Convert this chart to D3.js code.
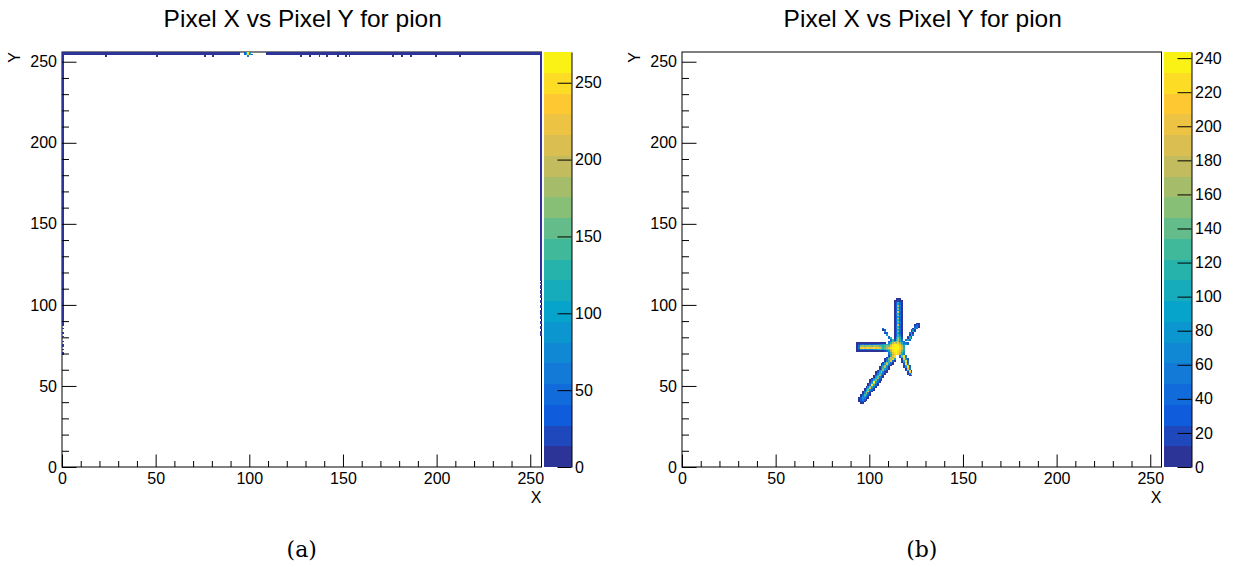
<!DOCTYPE html>
<html>
<head>
<meta charset="utf-8">
<script src="https://cdn.jsdelivr.net/npm/d3@7"></script>
<style>
  body { margin: 0; background: #fff; }
  text { font-family: "Liberation Sans", Arial, sans-serif; fill: #000; }
</style>
</head>
<body>
<svg id="chart" width="1237" height="567"></svg>
<script>
// ---- data ----
var titleText = 'Pixel X vs Pixel Y for pion';
var panelTags = ['(a)', '(b)'];
var xyTicks = [0, 50, 100, 150, 200, 250];
var xyMinor = [10, 20, 30, 40, 60, 70, 80, 90, 110, 120, 130, 140, 160, 170, 180, 190, 210, 220, 230, 240];
var zTicksA = [0, 50, 100, 150, 200, 250];
var zTicksB = [0, 20, 40, 60, 80, 100, 120, 140, 160, 180, 200, 220, 240];
var zMaxA = 270;
var zMaxB = 243.6;

// panel (a): blocks of hit pixels [x0, x1, y0, y1, value]
var blocksA = [
  [0, 94, 254, 255, 10], [97, 97, 254, 255, 40], [98, 98, 254, 255, 110], [99, 99, 254, 255, 255],
  [100, 100, 254, 255, 90], [101, 101, 254, 254, 30], [109, 255, 254, 255, 10],
  [23, 23, 253, 253, 10], [50, 50, 253, 253, 10], [76, 76, 253, 253, 10], [80, 80, 253, 253, 10],
  [99, 99, 253, 253, 60],
  [127, 127, 253, 253, 10], [132, 132, 253, 253, 10], [137, 137, 253, 253, 10], [141, 141, 253, 253, 10],
  [147, 147, 253, 253, 10], [151, 151, 253, 253, 10], [153, 153, 253, 253, 10], [176, 176, 253, 253, 10],
  [181, 181, 253, 253, 10], [186, 186, 253, 253, 10], [199, 199, 253, 253, 10], [212, 212, 253, 253, 10],
  [0, 0, 87, 253, 10], [0, 0, 85, 85, 10], [0, 0, 82, 82, 10], [0, 0, 80, 80, 10], [0, 0, 77, 77, 10],
  [0, 0, 74, 75, 10], [0, 0, 72, 72, 10], [0, 0, 69, 70, 10],
  [255, 255, 115, 253, 10], [255, 255, 113, 113, 10], [255, 255, 110, 111, 10], [255, 255, 107, 108, 10],
  [255, 255, 104, 105, 10], [255, 255, 101, 102, 10], [255, 255, 98, 99, 10], [255, 255, 94, 96, 10],
  [255, 255, 91, 92, 10], [255, 255, 88, 89, 10], [255, 255, 85, 86, 10], [255, 255, 81, 83, 10]
];

// panel (b): pixel rows [y, firstX, [values from firstX onwards]]
var trackLowerLeft = [
  [39, 95, [6, 6]],
  [40, 94, [6, 20, 30, 6]],
  [41, 94, [6, 35, 60, 25, 6]],
  [42, 94, [6, 30, 80, 50, 20, 6]],
  [43, 95, [6, 60, 100, 40, 6]],
  [44, 95, [6, 40, 130, 90, 30, 6]],
  [45, 96, [6, 70, 160, 60, 6]],
  [46, 96, [6, 50, 110, 190, 40, 6]],
  [47, 97, [6, 90, 140, 70, 30, 6]],
  [48, 97, [6, 40, 120, 210, 50, 6]],
  [49, 98, [6, 70, 160, 100, 40, 6]],
  [50, 99, [6, 50, 230, 120, 30, 6]],
  [51, 99, [6, 40, 110, 200, 60, 6]],
  [52, 100, [6, 80, 235, 90, 40, 6]],
  [53, 100, [6, 30, 120, 150, 60, 20, 6]],
  [54, 101, [6, 60, 100, 180, 40, 6]],
  [55, 102, [6, 90, 140, 70, 30, 6]],
  [56, 102, [6, 40, 110, 160, 50, 6]],
  [57, 103, [6, 70, 130, 90, 40, 6]],
  [58, 103, [6, 30, 100, 170, 60, 20, 6]],
  [59, 104, [6, 80, 120, 150, 40, 6]],
  [60, 105, [6, 60, 140, 100, 50, 6]],
  [61, 105, [6, 40, 110, 180, 70, 6]],
  [62, 106, [6, 90, 150, 120, 40, 6]],
  [63, 106, [6, 30, 100, 190, 80, 30, 6]],
  [64, 107, [6, 70, 160, 130, 50, 6]],
  [65, 108, [6, 60, 120, 200, 60, 10]],
  [66, 108, [6, 40, 140, 170, 210, 90]],
  [67, 109, [6, 80, 190, 150, 220]],
  [68, 110, [20, 120, 200, 230]]
];
var trackLeft = [
  [76, 93, [6, 6, 6, 6, 6, 6, 6, 6, 6, 6, 6, 6, 6, 6, 6, 10]],
  [75, 93, [6, 20, 30, 40, 30, 40, 30, 40, 30, 40, 40, 50, 60, 70, 80, 90, 120]],
  [74, 93, [6, 40, 150, 160, 140, 170, 150, 160, 140, 170, 160, 150, 140, 120, 110, 130, 150, 180]],
  [73, 93, [6, 60, 210, 220, 200, 215, 220, 205, 215, 220, 200, 210, 190, 160, 120, 140, 170, 200]],
  [72, 93, [6, 20, 50, 60, 50, 60, 70, 60, 50, 70, 80, 100, 110, 120, 90, 110, 140, 160]],
  [71, 93, [6, 6, 6, 6, 6, 6, 6, 6, 6, 6, 6, 6, 6, 6, 10, 20, 40]]
];
var trackUp = [
  [103, 114, [6, 6, 6]],
  [102, 113, [6, 6, 20, 6, 6]],
  [101, 113, [6, 30, 120, 40, 6]],
  [100, 113, [6, 40, 90, 30, 6]],
  [99, 113, [6, 30, 170, 50, 6]],
  [98, 113, [6, 50, 100, 30, 6]],
  [97, 113, [6, 30, 150, 40, 6]],
  [96, 113, [6, 40, 80, 60, 6]],
  [95, 113, [6, 30, 200, 40, 6]],
  [94, 113, [6, 60, 110, 30, 6]],
  [93, 113, [6, 30, 160, 50, 6]],
  [92, 113, [6, 40, 90, 30, 6]],
  [91, 113, [6, 30, 180, 40, 6]],
  [90, 113, [6, 50, 120, 30, 6]],
  [89, 113, [6, 30, 140, 60, 6]],
  [88, 113, [6, 40, 90, 30, 6]],
  [87, 113, [6, 30, 190, 40, 6]],
  [86, 113, [6, 60, 110, 30, 6]],
  [85, 113, [6, 30, 150, 50, 6]],
  [84, 113, [6, 40, 100, 30, 6]],
  [83, 113, [6, 30, 170, 40, 6]],
  [82, 113, [6, 50, 90, 30, 6]],
  [81, 113, [6, 30, 130, 50, 6]],
  [80, 113, [6, 60, 110, 80, 6]],
  [79, 113, [10, 80, 150, 100, 20]],
  [78, 113, [20, 100, 170, 120, 40]]
];
var trackUpperRight = [
  [75, 119, [90, 40]], [76, 119, [60, 30]],
  [78, 119, [40, 100, 30]], [79, 120, [6, 110, 40]], [80, 120, [30, 90, 6]], [81, 121, [6, 120, 40]],
  [82, 121, [40, 80, 6]], [83, 122, [6, 100, 30]], [84, 122, [30, 70, 6]], [85, 123, [6, 90, 40]],
  [86, 124, [30, 60, 6]], [87, 124, [6, 40, 20]], [88, 125, [6, 10]]
];
var trackUpperLeft = [
  [85, 107, [60]], [84, 107, [6, 25]], [83, 108, [100]], [82, 108, [20, 30]],
  [81, 109, [90]], [80, 110, [25]], [79, 110, [40, 110]], [78, 111, [40, 130]]
];
var trackLowerRight = [
  [68, 116, [40, 150, 230, 60]], [67, 116, [30, 120, 220, 50]], [66, 117, [6, 200, 90, 20]],
  [65, 117, [20, 110, 225, 40]], [64, 117, [6, 60, 200, 30]], [63, 118, [30, 220, 60]],
  [62, 118, [6, 120, 210, 20]], [61, 118, [20, 80, 230, 40]], [60, 119, [6, 200, 60]],
  [59, 119, [30, 110, 220, 6]], [58, 120, [6, 210, 40]], [57, 120, [20, 60, 180]], [56, 121, [6, 40]]
];
var vertex = [
  [77, 110, [30, 60, 130, 110, 150, 170, 90, 60, 40]],
  [76, 110, [60, 120, 180, 200, 160, 210, 150, 100, 60]],
  [75, 110, [100, 160, 220, 235, 240, 220, 190, 130, 80]],
  [74, 110, [140, 200, 230, 243, 240, 235, 210, 160, 100]],
  [73, 110, [200, 220, 240, 243, 243, 240, 220, 180, 120]],
  [72, 110, [150, 190, 230, 243, 243, 238, 215, 170, 110]],
  [71, 110, [90, 160, 220, 240, 243, 230, 200, 140, 90]],
  [70, 110, [60, 130, 200, 230, 240, 225, 180, 120, 70]],
  [69, 110, [40, 110, 170, 215, 230, 200, 150, 90, 50]]
];

// ---- ROOT kBird palette ----
var birdStops = [0, 0.125, 0.25, 0.375, 0.5, 0.625, 0.75, 0.875, 1];
var birdColors = ['#352a87', '#0f5cdd', '#1481d6', '#06a4ca', '#2eb7a4', '#87bf77', '#d1bb59', '#fec832', '#f9fb0e'];
var bird = d3.scaleLinear().domain(birdStops).range(birdColors).interpolate(d3.interpolateRgb);
var nBands = 20;
function bandColor(v, zMax) {
  var b = Math.min(nBands - 1, Math.floor(v / zMax * nBands));
  return bird((b + 0.5) / nBands);
}

// rows -> one block per pixel
function rowsToBlocks(rows) {
  var out = [];
  rows.forEach(function(r) {
    r[2].forEach(function(v, i) {
      out.push([r[1] + i, r[1] + i, r[0], r[0], v]);
    });
  });
  return out;
}

var svg = d3.select('#chart');

function drawPanel(ox, blocks, zMax, zTicks, tag) {
  var frame = { left: 62, right: 541.5, top: 52, bottom: 467 };
  var bar = { left: 544, right: 571.5 };

  var g = svg.append('g').attr('transform', 'translate(' + ox + ',0)');

  var x = d3.scaleLinear().domain([0, 256]).range([frame.left, frame.right]);
  var y = d3.scaleLinear().domain([0, 256]).range([frame.bottom, frame.top]);
  var z = d3.scaleLinear().domain([0, zMax]).range([frame.bottom, frame.top]);

  g.append('text')
    .attr('x', (frame.left + frame.right) / 2 + 1)
    .attr('y', 27)
    .attr('text-anchor', 'middle')
    .style('font-size', '24.5px')
    .text(titleText);

  g.append('rect')
    .attr('x', frame.left).attr('y', frame.top)
    .attr('width', frame.right - frame.left).attr('height', frame.bottom - frame.top)
    .attr('fill', 'none').attr('stroke', '#000').attr('stroke-width', 1);

  g.append('g').attr('shape-rendering', 'crispEdges')
    .selectAll('rect')
    .data(blocks)
    .enter().append('rect')
    .attr('x', function(d) { return x(d[0]); })
    .attr('width', function(d) { return x(d[1] + 1) - x(d[0]); })
    .attr('y', function(d) { return y(d[3] + 1); })
    .attr('height', function(d) { return y(d[2]) - y(d[3] + 1); })
    .attr('fill', function(d) { return bandColor(d[4], zMax); });

  // axes, ticks pointing into the frame
  var axes = [];
  axes.push(g.append('g').attr('transform', 'translate(0,' + frame.bottom + ')')
    .call(d3.axisBottom(x).tickValues(xyTicks).tickSize(-12.5).tickSizeOuter(0).tickPadding(6)));
  axes.push(g.append('g').attr('transform', 'translate(0,' + frame.bottom + ')')
    .call(d3.axisBottom(x).tickValues(xyMinor).tickSize(-6).tickSizeOuter(0).tickFormat('')));
  axes.push(g.append('g').attr('transform', 'translate(' + frame.left + ',0)')
    .call(d3.axisLeft(y).tickValues(xyTicks).tickSize(-14.5).tickSizeOuter(0).tickPadding(5)));
  axes.push(g.append('g').attr('transform', 'translate(' + frame.left + ',0)')
    .call(d3.axisLeft(y).tickValues(xyMinor).tickSize(-7).tickSizeOuter(0).tickFormat('')));
  axes.forEach(function(a) { a.select('.domain').remove(); });

  g.append('text')
    .attr('x', frame.right).attr('y', 503)
    .attr('text-anchor', 'end')
    .style('font-size', '16px')
    .text('X');
  g.append('text')
    .attr('transform', 'translate(20,' + frame.top + ') rotate(-90)')
    .attr('text-anchor', 'end')
    .style('font-size', '16px')
    .text('Y');

  // colour bar
  var bands = d3.range(nBands);
  g.append('g').attr('shape-rendering', 'crispEdges')
    .selectAll('rect')
    .data(bands)
    .enter().append('rect')
    .attr('x', bar.left)
    .attr('width', bar.right - bar.left)
    .attr('y', function(i) { return z((i + 1) * zMax / nBands); })
    .attr('height', function(i) { return z(i * zMax / nBands) - z((i + 1) * zMax / nBands); })
    .attr('fill', function(i) { return bird((i + 0.5) / nBands); });
  g.append('g').attr('transform', 'translate(' + bar.right + ',0)')
    .call(d3.axisRight(z).tickValues(zTicks).tickSize(-14).tickSizeOuter(0).tickPadding(3.5));

  g.selectAll('.domain').attr('stroke', '#000').attr('stroke-width', 1);
  g.selectAll('.tick line').attr('stroke', '#000').attr('stroke-width', 1);
  g.selectAll('.tick text').style('font-size', '16px').attr('fill', '#000')
    .style('font-family', '"Liberation Sans", Arial, sans-serif');

  g.append('text')
    .attr('x', (frame.left + frame.right) / 2)
    .attr('y', 557)
    .attr('text-anchor', 'middle')
    .style('font-family', '"DejaVu Serif", "Liberation Serif", serif')
    .style('font-size', '22px')
    .text(tag);
}

var blocksB = rowsToBlocks(trackLowerLeft)
  .concat(rowsToBlocks(trackLeft))
  .concat(rowsToBlocks(trackUp))
  .concat(rowsToBlocks(trackUpperRight))
  .concat(rowsToBlocks(trackUpperLeft))
  .concat(rowsToBlocks(trackLowerRight))
  .concat(rowsToBlocks(vertex));

drawPanel(0, blocksA, zMaxA, zTicksA, panelTags[0]);
drawPanel(620, blocksB, zMaxB, zTicksB, panelTags[1]);
</script>
</body>
</html>
